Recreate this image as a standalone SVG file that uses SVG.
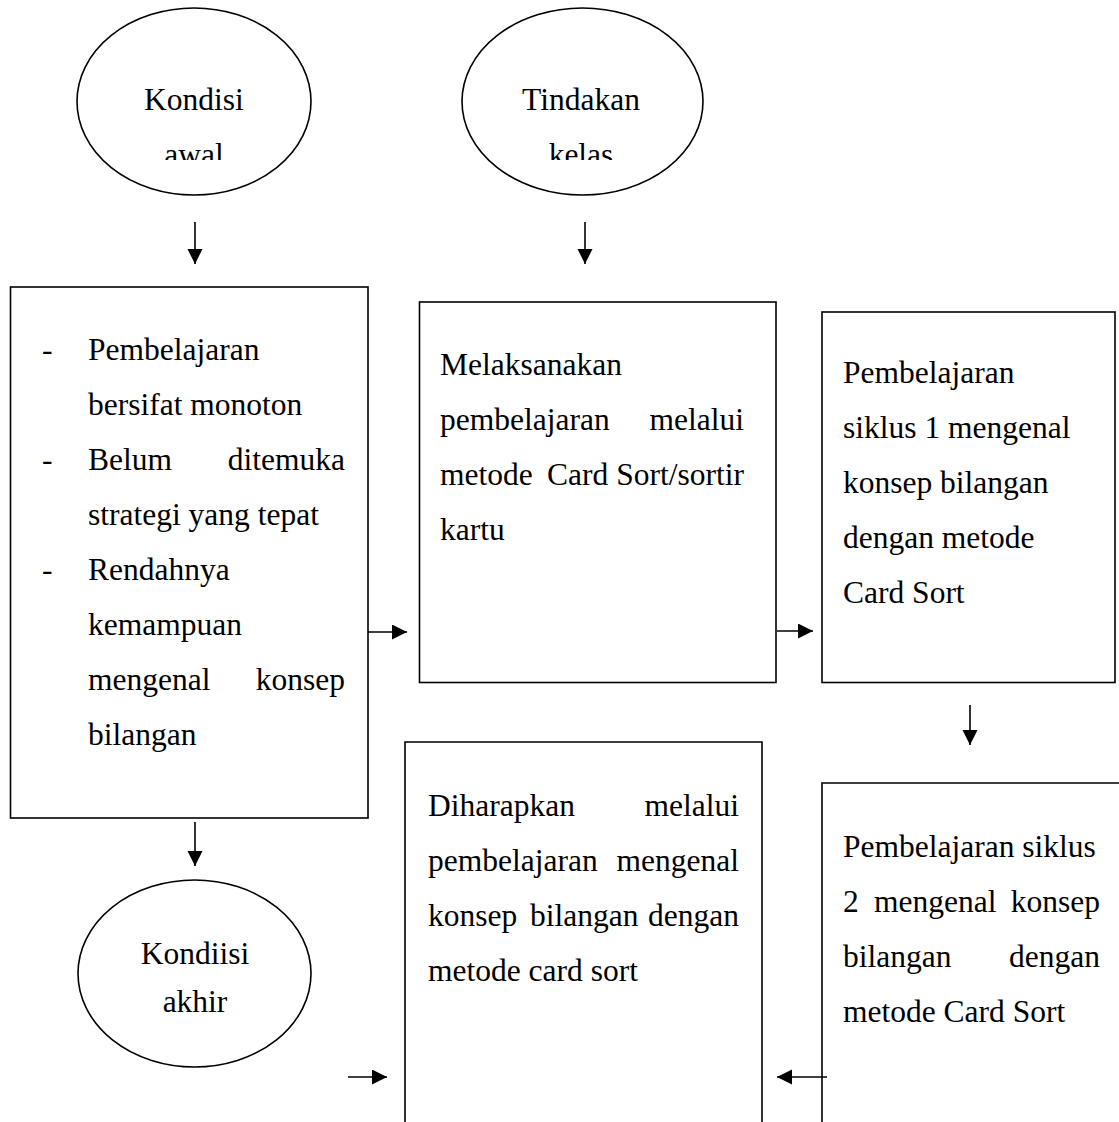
<svg xmlns="http://www.w3.org/2000/svg" width="1119" height="1122" viewBox="0 0 1119 1122">
<style>
  .shape { fill: none; stroke: #000; stroke-width: 1.6; }
  .conn { stroke: #000; stroke-width: 1.6; fill: none; marker-end: url(#ah); }
  text { font-family: "Liberation Serif", "Times New Roman", serif; font-size: 31.5px; fill: #000; }
  .c { text-anchor: middle; }
  .e { text-anchor: end; }
</style>
<defs>
  <marker id="ah" markerUnits="userSpaceOnUse" markerWidth="16" markerHeight="16" refX="15" refY="7.5" orient="auto">
    <path d="M0,0 L15,7.5 L0,15 z" fill="#000"/>
  </marker>
  <clipPath id="clipTop"><rect x="0" y="0" width="1119" height="160"/></clipPath>
</defs>
<rect width="1119" height="1122" fill="#fff"/>

<g id="kondisi-awal">
  <ellipse class="shape" cx="194" cy="101.5" rx="117" ry="93.5"/>
  <g clip-path="url(#clipTop)">
    <text class="c" x="194" y="110">Kondisi</text>
    <text class="c" x="194" y="165">awal</text>
  </g>
</g>

<g id="tindakan-kelas">
  <ellipse class="shape" cx="582.5" cy="101.5" rx="120.5" ry="93.5"/>
  <g clip-path="url(#clipTop)">
    <text class="c" x="581" y="110">Tindakan</text>
    <text class="c" x="581" y="165">kelas</text>
  </g>
</g>

<g id="kondisi-list">
  <rect class="shape" x="10.5" y="287" width="357.5" height="531"/>
  <text x="42" y="360">-</text>
  <text x="88" y="360">Pembelajaran</text>
  <text x="88" y="415">bersifat monoton</text>
  <text x="42" y="470">-</text>
  <text x="88" y="470">Belum</text>
  <text class="e" x="345" y="470">ditemuka</text>
  <text x="88" y="525">strategi yang tepat</text>
  <text x="42" y="580">-</text>
  <text x="88" y="580">Rendahnya</text>
  <text x="88" y="635">kemampuan</text>
  <text x="88" y="690">mengenal</text>
  <text class="e" x="345" y="690">konsep</text>
  <text x="88" y="745">bilangan</text>
</g>

<g id="melaksanakan">
  <rect class="shape" x="419.5" y="302" width="356.5" height="380.5"/>
  <text x="440" y="375">Melaksanakan</text>
  <text x="440" y="430">pembelajaran</text>
  <text class="e" x="744" y="430">melalui</text>
  <text x="440" y="485">metode</text>
  <text x="547" y="485">Card</text>
  <text class="e" x="744" y="485">Sort/sortir</text>
  <text x="440" y="540">kartu</text>
</g>

<g id="siklus-1">
  <rect class="shape" x="822" y="312" width="293" height="370.5"/>
  <text x="843" y="383">Pembelajaran</text>
  <text x="843" y="438">siklus 1 mengenal</text>
  <text x="843" y="493">konsep bilangan</text>
  <text x="843" y="548">dengan metode</text>
  <text x="843" y="603">Card Sort</text>
</g>

<g id="diharapkan">
  <path class="shape" d="M405,1122 V742 H762 V1122"/>
  <text x="428" y="816">Diharapkan</text>
  <text class="e" x="739" y="816">melalui</text>
  <text x="428" y="871">pembelajaran</text>
  <text class="e" x="739" y="871">mengenal</text>
  <text x="428" y="926">konsep</text>
  <text x="530" y="926">bilangan</text>
  <text class="e" x="739" y="926">dengan</text>
  <text x="428" y="981">metode card sort</text>
</g>

<g id="siklus-2">
  <path class="shape" d="M822,1122 V783 H1119"/>
  <text x="843" y="857">Pembelajaran siklus</text>
  <text x="843" y="912">2</text>
  <text x="874" y="912">mengenal</text>
  <text class="e" x="1100" y="912">konsep</text>
  <text x="843" y="967">bilangan</text>
  <text class="e" x="1100" y="967">dengan</text>
  <text x="843" y="1022">metode Card Sort</text>
</g>

<g id="kondisi-akhir">
  <ellipse class="shape" cx="194.5" cy="973.5" rx="116.5" ry="93.5"/>
  <text class="c" x="195" y="964">Kondiisi</text>
  <text class="c" x="195" y="1012">akhir</text>
</g>

<g id="connectors">
  <line class="conn" x1="195" y1="222" x2="195" y2="264"/>
  <line class="conn" x1="585" y1="222" x2="585" y2="264"/>
  <line class="conn" x1="368" y1="632" x2="407" y2="632"/>
  <line class="conn" x1="777" y1="631" x2="813" y2="631"/>
  <line class="conn" x1="970" y1="705" x2="970" y2="745"/>
  <line class="conn" x1="195" y1="822" x2="195" y2="866"/>
  <line class="conn" x1="348" y1="1077" x2="387" y2="1077"/>
  <line class="conn" x1="827" y1="1077" x2="777" y2="1077"/>
</g>
</svg>
